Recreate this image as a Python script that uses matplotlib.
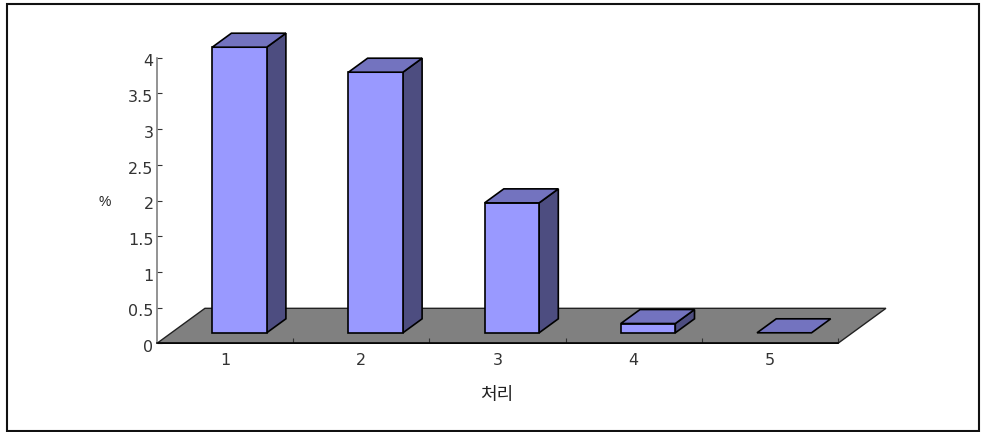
import matplotlib
matplotlib.use('Agg')
import matplotlib.pyplot as plt
from matplotlib.patches import Polygon, Rectangle
from matplotlib.transforms import ScaledTranslation

plt.rcParams['font.family'] = ['DejaVu Sans']

categories = [1, 2, 3, 4, 5]
values = [4.0, 3.65, 1.82, 0.13, 0.0]
y_ticks = [0, 0.5, 1, 1.5, 2, 2.5, 3, 3.5, 4]
y_labels = ['0', '0.5', '1', '1.5', '2', '2.5', '3', '3.5', '4']

# oblique depth of the floor, in data units
depth_x = 0.352
depth_y = 0.49
gap = 0.3
bar_w = 0.4

fig = plt.figure(figsize=[9.81, 4.32], dpi=100)
fig.add_artist(Rectangle((7/981, 1-431/432), 972/981, 427/432, transform=fig.transFigure,
                         fill=False, edgecolor='#111111', linewidth=1.5))
ax = fig.add_axes([157/981, 1-343.3/432, 681/981, 285.6/432])
ax.set_xlim(0.5, 5.5)
ax.set_ylim(0, 4)

def shift(x, y, frac):
    return (x + depth_x*frac, y + depth_y*frac)

# floor
left, right = 0.5, 5.5
floor = [(left, 0), (right, 0), shift(right, 0, 1), shift(left, 0, 1)]
ax.add_patch(Polygon(floor, closed=True, facecolor='#808080', edgecolor='#222222',
                     linewidth=1.0, clip_on=False, zorder=1))

# bars
front_d = gap
back_d = gap + bar_w
for cat, val in zip(categories, values):
    x0 = cat - 0.5 + gap
    x1 = x0 + bar_w
    p0 = shift(x0, 0, front_d)
    p1 = shift(x1, 0, front_d)
    t0 = (p0[0], p0[1] + val)
    t1 = (p1[0], p1[1] + val)
    bk0 = shift(x0, val, back_d)
    bk1 = shift(x1, val, back_d)
    bb1 = shift(x1, 0, back_d)
    style = dict(closed=True, edgecolor='black', linewidth=1.2, clip_on=False,
                 joinstyle='miter', zorder=3)
    if val > 0:
        ax.add_patch(Polygon([p1, bb1, bk1, t1], facecolor='#4D4D80', **style))
        ax.add_patch(Polygon([p0, p1, t1, t0], facecolor='#9999FF', **style))
    ax.add_patch(Polygon([t0, t1, bk1, bk0], facecolor='#7373BF', **style))

for side in ['top', 'right']:
    ax.spines[side].set_visible(False)
ax.spines['left'].set_color('#808080')
ax.spines['left'].set_linewidth(1.2)
ax.spines['bottom'].set_color('black')
ax.spines['bottom'].set_linewidth(1.1)
ax.spines['bottom'].set_zorder(4)

ax.set_yticks(y_ticks)
ax.set_yticklabels(y_labels)
ax.tick_params(axis='y', direction='in', length=3.6, width=0.8, color='#333333',
               labelsize=11.5, labelcolor='#333333', pad=2.5)
# labels sit a little below their ticks in the original
for lab in ax.get_yticklabels():
    lab.set_transform(lab.get_transform() + ScaledTranslation(0, -2/72, fig.dpi_scale_trans))

ax.set_xticks(categories)
ax.set_xticklabels([str(c) for c in categories])
ax.tick_params(axis='x', which='major', length=0, labelsize=11.5, labelcolor='#333333', pad=7)
ax.set_xticks([1.5, 2.5, 3.5, 4.5, 5.5], minor=True)
ax.tick_params(axis='x', which='minor', direction='in', length=3.6, width=0.8, color='#333333')

fig.text(105/981, 1-202/432, '%', ha='center', va='center', fontsize=10, color='#222222',
         family='Liberation Sans')
fig.text(497/981, 1-395/432, '처리', ha='center', va='center', fontsize=13, color='#222222',
         family=['Noto Sans CJK KR', 'DejaVu Sans'])

plt.savefig('out.png', dpi=100)
